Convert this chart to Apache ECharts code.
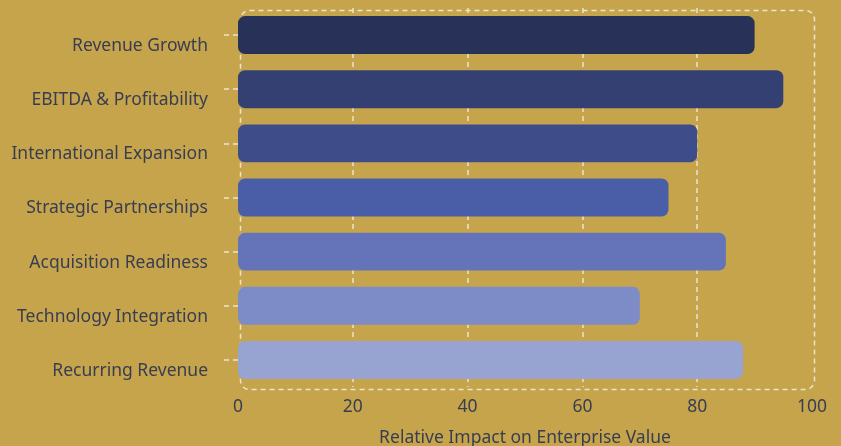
<!DOCTYPE html>
<html>
<head>
<meta charset="utf-8">
<script src="https://cdn.jsdelivr.net/npm/echarts@6/dist/echarts.min.js"></script>
<style>
  html, body { margin: 0; padding: 0; background: #c5a44c; }
  #main { width: 841px; height: 446px; }
</style>
</head>
<body>
<div id="main"></div>
<script>
// categories, top to bottom
var drivers = ['Revenue Growth', 'EBITDA & Profitability', 'International Expansion',
    'Strategic Partnerships', 'Acquisition Readiness', 'Technology Integration', 'Recurring Revenue'];
var impact = [90, 95, 80, 75, 85, 70, 88];
var xTicks = [0, 20, 40, 60, 80, 100];

var palette = ['#283158', '#343f72', '#3f4c8a', '#4a5ea8', '#6574b9', '#7d8cc6', '#97a3d1'];
var textColor = '#383d52';
var lineColor = '#ece4cc';

var chart = echarts.init(document.getElementById('main'), null, { renderer: 'canvas' });

var option = {
    backgroundColor: '#c5a44c',
    textStyle: { fontFamily: 'Noto Sans' },
    grid: {
        left: 238,
        right: 29,
        top: 8,
        bottom: 59,
        outerBoundsMode: 'none'
    },
    graphic: [{
        type: 'rect',
        left: 238,
        top: 8,
        z: 0,
        shape: { width: 574, height: 379, r: 9 },
        style: {
            fill: 'none',
            stroke: lineColor,
            lineWidth: 1.5,
            lineDash: [5, 4]
        }
    }],
    xAxis: {
        type: 'value',
        min: xTicks[0],
        max: xTicks[xTicks.length - 1],
        interval: 20,
        name: 'Relative Impact on Enterprise Value',
        nameLocation: 'middle',
        nameGap: 42,
        nameTextStyle: { color: textColor, fontSize: 17.5 },
        axisLine: { show: false },
        axisTick: { show: false },
        axisLabel: { color: textColor, fontSize: 17.5, margin: 11 },
        splitLine: {
            show: true,
            showMinLine: false,
            showMaxLine: false,
            lineStyle: { color: lineColor, type: [5, 4], width: 1.5 }
        }
    },
    yAxis: {
        type: 'category',
        data: drivers,
        inverse: true,
        offset: 10,
        axisLine: { show: false },
        axisTick: {
            show: true,
            alignWithLabel: true,
            length: 15,
            lineStyle: { color: lineColor, type: [5, 4], width: 1.5 }
        },
        axisLabel: {
            color: textColor,
            fontSize: 17.5,
            margin: 20,
            verticalAlign: 'top',
            lineHeight: 22
        }
    },
    series: [{
        type: 'bar',
        barWidth: '70%',
        z: 3,
        data: impact.map(function (v, i) {
            return { value: v, itemStyle: { color: palette[i] } };
        }),
        itemStyle: { borderRadius: 7 }
    }]
};

chart.setOption(option);
</script>
</body>
</html>
